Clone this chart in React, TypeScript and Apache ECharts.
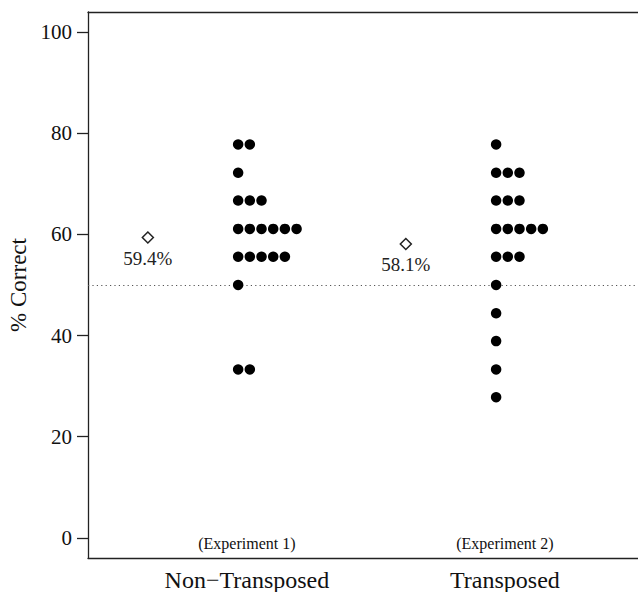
import React, { useEffect, useRef } from "react";
import * as echarts from "echarts";

// ---- data ----
const categories = ["Non−Transposed", "Transposed"];
const experimentLabels = ["(Experiment 1)", "(Experiment 2)"];
const exp1Scores = [
  77.8, 77.8, 72.2, 66.7, 66.7, 66.7, 61.1, 61.1, 61.1, 61.1, 61.1, 61.1,
  55.6, 55.6, 55.6, 55.6, 55.6, 50.0, 33.3, 33.3,
];
const exp2Scores = [
  77.8, 72.2, 72.2, 72.2, 66.7, 66.7, 66.7, 61.1, 61.1, 61.1, 61.1, 61.1,
  55.6, 55.6, 55.6, 50.0, 44.4, 38.9, 33.3, 27.8,
];
const meanValues = [59.4, 58.1];
const meanLabels = ["59.4%", "58.1%"];
const yTicks = [0, 20, 40, 60, 80, 100];
const chanceLevel = 50;

// ---- layout constants ----
const X_MIN = 0.384;
const X_MAX = 2.516;
const DOT_START = -0.034;
const DOT_STEP = 0.0453;
const MEAN_OFFSET = -0.384;
const FONT = "Liberation Serif";

function stackDots(scores: number[], catPos: number) {
  const counts: Record<string, number> = {};
  return scores.map((v) => {
    const k = v.toFixed(1);
    const i = counts[k] || 0;
    counts[k] = i + 1;
    return [catPos + DOT_START + i * DOT_STEP, v];
  });
}

export default function App() {
  const ref = useRef<HTMLDivElement>(null);
  useEffect(() => {
    document.body.style.margin = "0";
    const chart = echarts.init(ref.current!, null, { renderer: "svg" });
    const groups = [exp1Scores, exp2Scores];
    const dots = groups.flatMap((g, i) => stackDots(g, i + 1));
    const means = meanValues.map((m, i) => [i + 1 + MEAN_OFFSET, m, meanLabels[i]]);
    const axisLineStyle = { color: "#222", width: 1.3 };
    chart.setOption({
      animation: false,
      backgroundColor: "#fff",
      textStyle: { fontFamily: FONT },
      grid: { left: 88, right: 0, top: 12, bottom: 34, containLabel: false, outerBoundsMode: "none" },
      xAxis: [
        {
          type: "value",
          min: X_MIN,
          max: X_MAX,
          position: "bottom",
          axisLine: { show: true, onZero: false, lineStyle: axisLineStyle },
          axisTick: { show: false },
          splitLine: { show: false },
          axisLabel: {
            customValues: [1, 2],
            formatter: (v: number) => categories[Math.round(v) - 1] || "",
            fontSize: 24,
            fontFamily: FONT,
            color: "#111",
            margin: 10,
          },
        },
        {
          type: "value",
          min: X_MIN,
          max: X_MAX,
          position: "bottom",
          axisLine: { show: false, onZero: false },
          axisTick: { show: false },
          splitLine: { show: false },
          axisLabel: {
            inside: true,
            customValues: [1, 2],
            formatter: (v: number) => experimentLabels[Math.round(v) - 1] || "",
            fontSize: 16,
            fontFamily: FONT,
            color: "#111",
            margin: 7,
          },
        },
        {
          type: "value",
          min: X_MIN,
          max: X_MAX,
          position: "top",
          axisLine: { show: true, onZero: false, lineStyle: axisLineStyle },
          axisTick: { show: false },
          axisLabel: { show: false },
          splitLine: { show: false },
        },
      ],
      yAxis: {
        type: "value",
        min: -4,
        max: 104,
        name: "% Correct",
        nameLocation: "middle",
        nameGap: 55,
        nameTextStyle: { fontSize: 23, fontFamily: FONT, color: "#111" },
        axisLine: { show: true, onZero: false, lineStyle: axisLineStyle },
        axisTick: { show: true, length: 11, customValues: yTicks, lineStyle: axisLineStyle },
        splitLine: { show: false },
        axisLabel: {
          customValues: yTicks,
          fontSize: 21,
          fontFamily: FONT,
          color: "#111",
          margin: 16,
        },
      },
      series: [
        {
          type: "scatter",
          xAxisIndex: 0,
          data: dots,
          symbol: "circle",
          symbolSize: 10.5,
          itemStyle: { color: "#000", opacity: 1 },
          z: 3,
          markLine: {
            silent: true,
            symbol: "none",
            label: { show: false },
            lineStyle: { color: "#555", width: 1.2, type: [1.2, 3.2], opacity: 1 },
            data: [{ yAxis: chanceLevel }],
            z: 1,
          },
        },
        {
          type: "scatter",
          xAxisIndex: 0,
          data: means,
          symbol: "diamond",
          symbolSize: [11, 11],
          itemStyle: { color: "#fff", borderColor: "#222", borderWidth: 1.5, opacity: 1 },
          label: {
            show: true,
            position: "bottom",
            distance: 5,
            formatter: (p: any) => p.data[2],
            fontSize: 19,
            fontFamily: FONT,
            color: "#222",
          },
          z: 3,
        },
      ],
    });
    return () => chart.dispose();
  }, []);
  return <div ref={ref} style={{ width: 638, height: 592 }} />;
}
